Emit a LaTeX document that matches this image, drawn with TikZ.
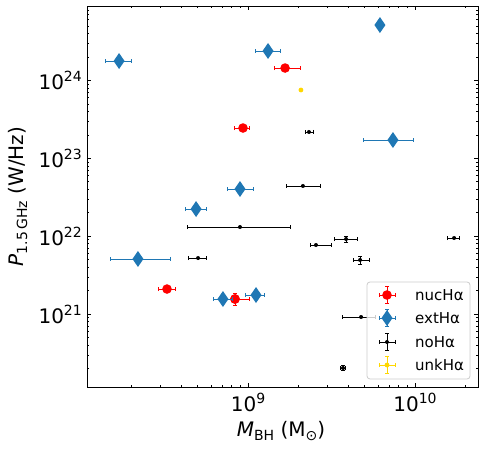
\documentclass[tikz,border=0pt]{standalone}
\usepackage{fontspec}
\setmainfont{DejaVu Sans}
\usetikzlibrary{arrows.meta}
\definecolor{tabblue}{HTML}{1F77B4}
\definecolor{gold}{HTML}{FFD700}
\newcommand{\decade}[1]{10\raisebox{7.8pt}{\fontsize{14}{14}\selectfont #1}}
\newcommand{\lowidx}[1]{\raisebox{-3.5pt}{\fontsize{14}{14}\selectfont #1}}

\begin{document}
\begin{tikzpicture}[
    ticklab/.style={font=\fontsize{20}{20}\selectfont, inner sep=0pt},
    axlab/.style={font=\fontsize{20}{20}\selectfont, inner sep=0pt},
    legtext/.style={font=\fontsize{15}{15}\selectfont, inner sep=0pt, anchor=base west},
    ebar/.style={line width=0.9pt, {Bar[width=4pt]}-{Bar[width=4pt]}},
    nucbar/.style={ebar, red},
    extbar/.style={ebar, tabblue},
    nobar/.style={ebar, black},
    unkbar/.style={ebar, gold},
    axframe/.style={line width=0.8pt},
    axtick/.style={line width=0.8pt}
  ]
  \useasboundingbox (0,0) rectangle (485pt,450pt);
  \def\xmin{8.036} \def\xmax{10.377}
  \def\ymin{20.065} \def\ymax{24.956}

  % log10(M_BH) against log10(P_1.5GHz)
  \begin{scope}[x=167pt, y=77.9pt, shift={(-1255pt,-1500.1pt)}]
    % ticks, all pointing inwards
    \foreach \e in {9,10} {
      \draw[axtick] (\e,\ymin) -- ++(0,4pt) (\e,\ymax) -- ++(0,-4pt);
      \node[ticklab, anchor=base, yshift=-24pt] (xt\e) at (\e,\ymin) {\decade{\e}};
    }
    \foreach \d in {8,9}
    \foreach \m in {2,...,9} {
      \pgfmathsetmacro\lx{\d+log10(\m)}
      \draw[axtick] (\lx,\ymin) -- ++(0,2pt) (\lx,\ymax) -- ++(0,-2pt);
    }
    \draw[axtick] ({10+log10(2)},\ymin) -- ++(0,2pt) ({10+log10(2)},\ymax) -- ++(0,-2pt);
    \foreach \e in {21,...,24} {
      \draw[axtick] (\xmin,\e) -- ++(4pt,0) (\xmax,\e) -- ++(-4pt,0);
      \node[ticklab, anchor=base east, xshift=-5pt, yshift=-9pt] (yt\e) at (\xmin,\e) {\decade{\e}};
    }
    \foreach \d in {20,...,24}
    \foreach \m in {2,...,9} {
      \pgfmathsetmacro\ly{\d+log10(\m)}
      \draw[axtick] (\xmin,\ly) -- ++(2pt,0) (\xmax,\ly) -- ++(-2pt,0);
    }

    % nuclear Halpha
    \foreach \x/\y/\xl/\xh in {9.222/24.160/9.156/9.317, 8.970/23.390/8.916/9.012,
                               8.515/21.323/8.461/8.569, 8.922/21.195/8.868/9.012} {
      \draw[nucbar] (\xl,\y) -- (\xh,\y);
      \fill[red] (\x,\y) circle (4.8pt);
    }
    \draw[nucbar] (8.922,21.105) -- (8.922,21.272);
    \fill[red] (8.922,21.195) circle (4.8pt);

    % extended Halpha
    \foreach \x/\y/\xl/\xh in {8.228/24.250/8.144/8.305, 9.120/24.379/9.042/9.195,
                               9.868/23.236/9.689/9.994, 8.952/22.607/8.874/9.036,
                               8.689/22.350/8.623/8.754, 8.341/21.709/8.174/8.539,
                               8.850/21.195/8.790/8.910, 9.048/21.246/8.982/9.102} {
      \draw[extbar] (\xl,\y) -- (\xh,\y);
      \fill[tabblue] (\x,\y) +(-5.5pt,0) -- +(0,8pt) -- +(5.5pt,0) -- +(0,-8pt) -- cycle;
    }
    \fill[tabblue] (9.790,24.712) +(-5.5pt,0) -- +(0,8pt) -- +(5.5pt,0) -- +(0,-8pt) -- cycle;

    % no Halpha
    \foreach \x/\y/\xl/\xh in {9.365/23.339/9.341/9.395, 9.329/22.646/9.228/9.437,
                               8.952/22.119/8.635/9.257, 8.701/21.721/8.641/8.754,
                               9.407/21.888/9.371/9.503, 9.587/21.965/9.515/9.659,
                               9.671/21.696/9.629/9.731, 10.234/21.978/10.192/10.269,
                               9.677/20.964/9.563/9.766, 9.569/20.309/9.553/9.585} {
      \draw[nobar] (\xl,\y) -- (\xh,\y);
      \fill (\x,\y) circle (2pt);
    }
    \foreach \x/\yl/\yh in {9.587/21.914/22.004, 9.671/21.631/21.747, 9.569/20.275/20.343}
      \draw[nobar] (\x,\yl) -- (\x,\yh);

    % unknown
    \fill[gold] (9.317,23.878) circle (2.4pt);

    \draw[axframe] (\xmin,\ymin) rectangle (\xmax,\ymax);
  \end{scope}

  \node[axlab, anchor=base] (xlab) at (281pt,13pt)
    {\textit{M}\lowidx{BH} (M\lowidx{⊙})};
  \node[axlab, anchor=base, rotate=90] (ylab) at (23.5pt,253.5pt)
    {\textit{P}\lowidx{1.5\,GHz} (W/Hz)};

  % legend
  \draw[black!20, line width=0.8pt, fill=white, fill opacity=0.8, rounded corners=3pt]
    (367pt,71pt) rectangle (470pt,168pt);
  \draw[nucbar] (378.5pt,155pt) -- (395.5pt,155pt);
  \draw[nucbar] (387pt,146.5pt) -- (387pt,163.5pt);
  \fill[red] (387pt,155pt) circle (4.8pt);
  \node[legtext] (lnuc) at (415pt,149.5pt) {nucHα};
  \draw[extbar] (378.5pt,132pt) -- (395.5pt,132pt);
  \draw[extbar] (387pt,123.5pt) -- (387pt,140.5pt);
  \fill[tabblue] (387pt,132pt) +(-5.5pt,0) -- +(0,8pt) -- +(5.5pt,0) -- +(0,-8pt) -- cycle;
  \node[legtext] (lext) at (415pt,126.5pt) {extHα};
  \draw[nobar] (378.5pt,108pt) -- (395.5pt,108pt);
  \draw[nobar] (387pt,99.5pt) -- (387pt,116.5pt);
  \fill (387pt,108pt) circle (2pt);
  \node[legtext] (lno) at (415pt,102.5pt) {noHα};
  \draw[unkbar] (378.5pt,85pt) -- (395.5pt,85pt);
  \draw[unkbar] (387pt,76.5pt) -- (387pt,93.5pt);
  \fill[gold] (387pt,85pt) circle (2.4pt);
  \node[legtext] (lunk) at (415pt,79.5pt) {unkHα};
\end{tikzpicture}
\end{document}
